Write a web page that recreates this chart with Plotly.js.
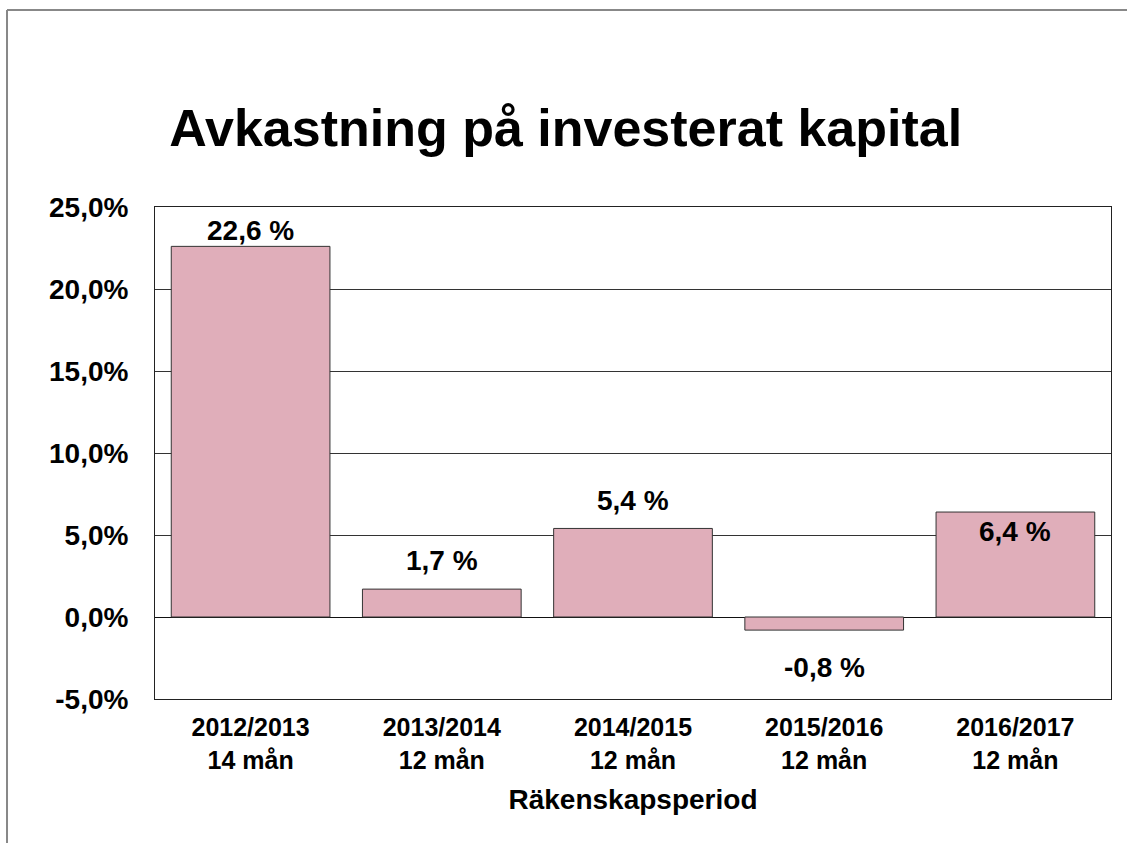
<!DOCTYPE html>
<html>
<head>
<meta charset="utf-8">
<script src="https://cdn.plot.ly/plotly-3.0.1.min.js"></script>
<style>
  body { margin: 0; background: white; }
  #chart { width: 1127px; height: 843px; }
</style>
</head>
<body>
<div id="chart"></div>
<script>
// avkastning per räkenskapsperiod
var periods = ["2012/2013<br>14 mån", "2013/2014<br>12 mån", "2014/2015<br>12 mån", "2015/2016<br>12 mån", "2016/2017<br>12 mån"];
var values = [22.6, 1.7, 5.4, -0.8, 6.4];
var labels = ["22,6 %", "1,7 %", "5,4 %", "-0,8 %", "6,4 %"];
var yTicks = [-5, 0, 5, 10, 15, 20, 25];
var yTickText = ["-5,0%", "0,0%", "5,0%", "10,0%", "15,0%", "20,0%", "25,0%"];

// label offset in px from bar end to label centre
var labelShift = [16, 29, 28, -37, -19];

function bar_chart(divid){
    var trace = {
        x: periods,
        y: values,
        type: "bar",
        width: 0.83,
        marker: {color: "#E0AEBA", line: {color: "#333333", width: 1}},
        hoverinfo: "x+y"
    };

    var notes = [];
    for (var i = 0; i < values.length; i++) {
        notes.push({
            x: periods[i],
            y: values[i],
            text: "<b>" + labels[i] + "</b>",
            showarrow: false,
            yanchor: "middle",
            yshift: labelShift[i],
            font: {size: 28, color: "black"}
        });
    }

    var layout = {
        width: 1127,
        height: 843,
        margin: {l: 155, r: 16, t: 207, b: 144},
        paper_bgcolor: "white",
        plot_bgcolor: "white",
        font: {family: "Liberation Sans, Arial, sans-serif", color: "black"},
        title: {
            text: "<b>Avkastning på investerat kapital</b>",
            font: {size: 52, color: "black"},
            x: 0.502, xanchor: "center",
            y: 0.848, yanchor: "middle"
        },
        showlegend: false,
        xaxis: {
            tickfont: {size: 25, weight: "bold"},
            ticklabelstandoff: 6,
            showline: true, mirror: true, linecolor: "#222222", linewidth: 1,
            ticks: "",
            title: {text: "<b>Räkenskapsperiod</b>", font: {size: 28}, standoff: 16}
        },
        yaxis: {
            range: [-5, 25],
            tickvals: yTicks,
            ticktext: yTickText,
            tickfont: {size: 28, weight: "bold"},
            ticklabelstandoff: 20,
            showgrid: true, gridcolor: "#333333", gridwidth: 1,
            zeroline: true, zerolinecolor: "#111111", zerolinewidth: 1,
            showline: true, mirror: true, linecolor: "#222222", linewidth: 1,
            ticks: ""
        },
        annotations: notes,
        shapes: [
            {type: "line", xref: "paper", yref: "paper", x0: -0.1548, x1: 1.02, y0: 1.4004, y1: 1.4004,
             line: {color: "#888888", width: 2}},
            {type: "line", xref: "paper", yref: "paper", x0: -0.1548, x1: -0.1548, y0: 1.4004, y1: -0.3,
             line: {color: "#888888", width: 2}}
        ]
    };

    Plotly.newPlot(divid, [trace], layout, {displayModeBar: false});
}

bar_chart("chart");
</script>
</body>
</html>
